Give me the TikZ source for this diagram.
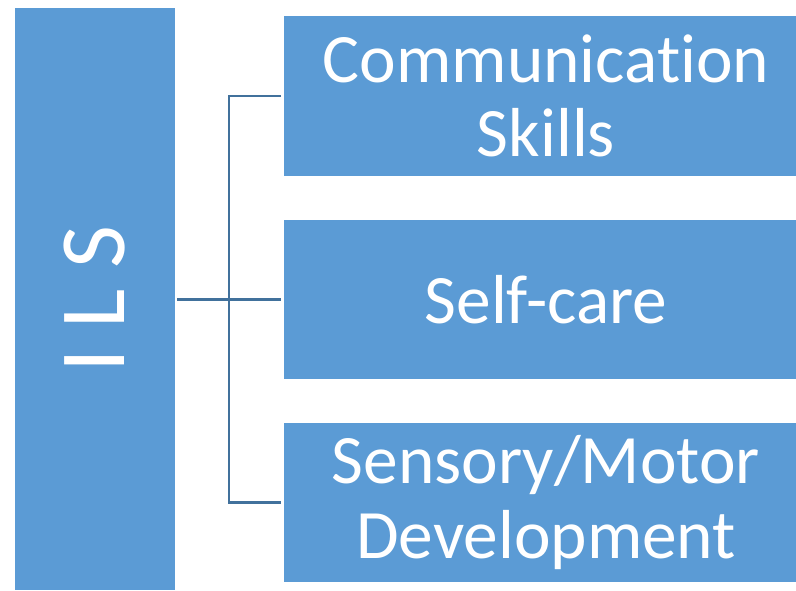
\documentclass[tikz,border=0pt]{standalone}
\usepackage{fontspec}
\setmainfont{Carlito}[Ligatures=NoCommon]
\definecolor{boxblue}{RGB}{91,155,213}
\definecolor{linkblue}{RGB}{65,113,156}
\tikzset{
  skillbox/.style={rectangle, fill=boxblue, text=white, align=center, inner sep=0pt,
    minimum width=393pt, minimum height=119pt,
    font=\fontsize{52pt}{56pt}\selectfont},
  link/.style={draw=linkblue, line width=1.6pt},
}
\begin{document}
\begin{tikzpicture}[x=0.75pt,y=0.75pt,yscale=-1,xscale=1]
\useasboundingbox (0,0) rectangle (796,590);

%Shape: Rectangle, rotated title
\node [rectangle, fill=boxblue, text=white, inner sep=0pt, rotate=90,
  minimum width=436.5pt, minimum height=120pt,
  font=\fontsize{70pt}{80pt}\selectfont] (ils) at (95,299) {I L S};

%Shape: Rectangle
\node [skillbox, minimum height=120pt] (comm) at (546,96) {Communication\\Skills};
%Shape: Rectangle
\node [skillbox] (self) at (546,299.5) {Self-care};
%Shape: Rectangle
\node [skillbox] (sens) at (546,502.5) {Sensory/Motor\\Development};

%Straight Lines
\coordinate (bus) at (229,299.5);
\draw [link, shorten <=1.5pt, shorten >=2pt] (ils.south |- self.west) -- (self.west);
\draw [link, shorten <=2pt, shorten >=2pt] (comm.west) -| (bus) |- (sens.west);

\end{tikzpicture}
\end{document}
